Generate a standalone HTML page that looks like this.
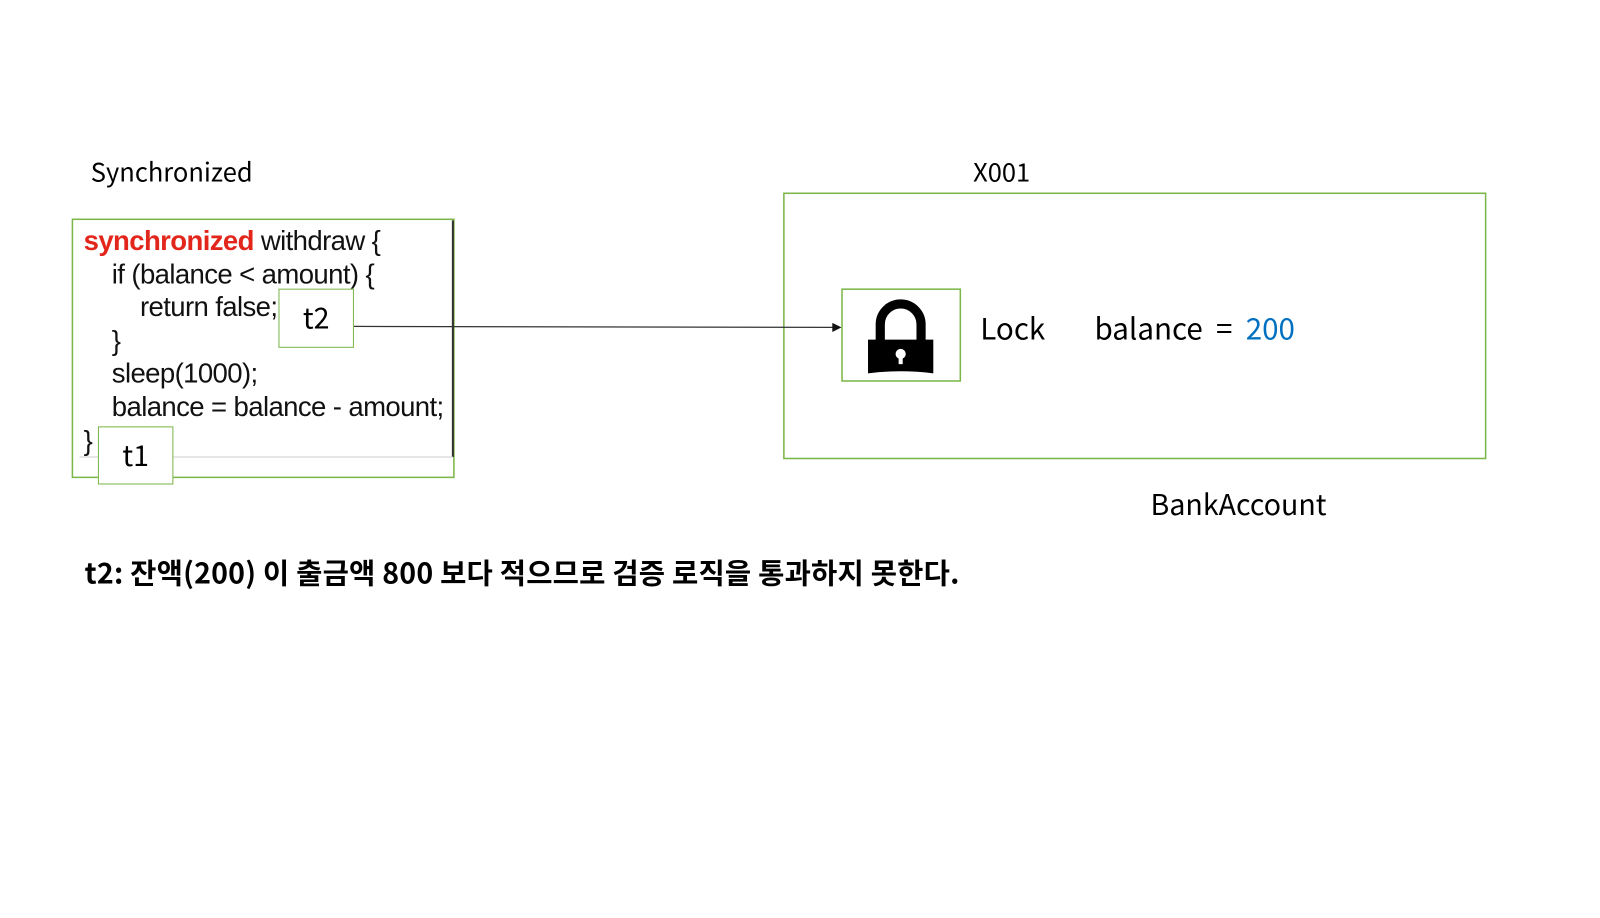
<!DOCTYPE html>
<html><head><meta charset="utf-8"><style>
body{margin:0;width:1600px;height:900px;background:#fff;position:relative;overflow:hidden;font-family:"Liberation Sans","Noto Sans CJK KR",sans-serif}
#w{position:absolute;left:0;top:0;width:1600px;height:900px;transform:scale(1.02);transform-origin:0 0}
.a{position:absolute;white-space:nowrap}
.code{position:absolute;font-family:"Liberation Sans",sans-serif;font-size:27px;letter-spacing:-0.6px;color:#111;white-space:pre;line-height:32.6px}
.k{font-family:"Noto Sans CJK KR","Liberation Sans",sans-serif}
</style></head><body><div id="w">
<svg class="a" style="left:0;top:0" width="1600" height="900">
<rect x="71" y="215" width="374" height="253" fill="none" stroke="#7ab648" stroke-width="1.5"/>
<line x1="444" y1="216" x2="444" y2="448" stroke="#333" stroke-width="2"/>
<line x1="78" y1="448" x2="444" y2="448" stroke="#ccc" stroke-width="1"/>
<rect x="768.5" y="189.5" width="688" height="260" fill="none" stroke="#7ab648" stroke-width="1.5"/>
<rect x="825.5" y="283.5" width="116" height="90" fill="none" stroke="#7ab648" stroke-width="1.5"/>
<line x1="347" y1="320" x2="818" y2="321" stroke="#333" stroke-width="1.2"/>
<polygon points="825,321 816,316.5 816,325.5" fill="#111"/>
<path d="M863 336 V318 A20 20 0 0 1 903 318 V336" fill="none" stroke="#000" stroke-width="9"/>
<path d="M851 333 L915 333 L915 366 Q883 362 851 366 Z" fill="#000"/>
<circle cx="883" cy="347" r="5" fill="#fff"/>
<rect x="881" y="348" width="4" height="9" fill="#fff"/>
</svg>
<div class="code" style="left:82px;top:220px"><span style="color:#e3261c;font-weight:bold">synchronized</span> withdraw {
    if (balance &lt; amount) {
        return false;
    }
    sleep(1000);
    balance = balance - amount;
}</div>
<div class="a" style="left:273px;top:283px;width:74px;height:58px;border:1.5px solid #7ab648;background:#fff;box-sizing:border-box;font-size:28px;text-align:center;line-height:55px"><span class="k">t2</span></div>
<div class="a" style="left:96px;top:418px;width:74px;height:57px;border:1.5px solid #7ab648;background:#fff;box-sizing:border-box;font-size:28px;text-align:center;line-height:55px"><span class="k">t1</span></div>
<div class="a k" style="left:89px;top:150px;font-size:25px">Synchronized</div>
<div class="a k" style="left:954px;top:150px;font-size:25px">X001</div>
<div class="a k" style="left:961px;top:300px;font-size:29px">Lock</div>
<div class="a k" style="left:1073px;top:300px;font-size:29px;white-space:pre">balance  =  <span style="color:#0070c0">200</span></div>
<div class="a k" style="left:1128px;top:474px;font-size:28px">BankAccount</div>
<div class="a k" style="left:83px;top:541px;font-size:28px;font-weight:bold;letter-spacing:0.2px">t2: 잔액(200) 이 출금액 800 보다 적으므로 검증 로직을 통과하지 못한다.</div>
</div></body></html>
